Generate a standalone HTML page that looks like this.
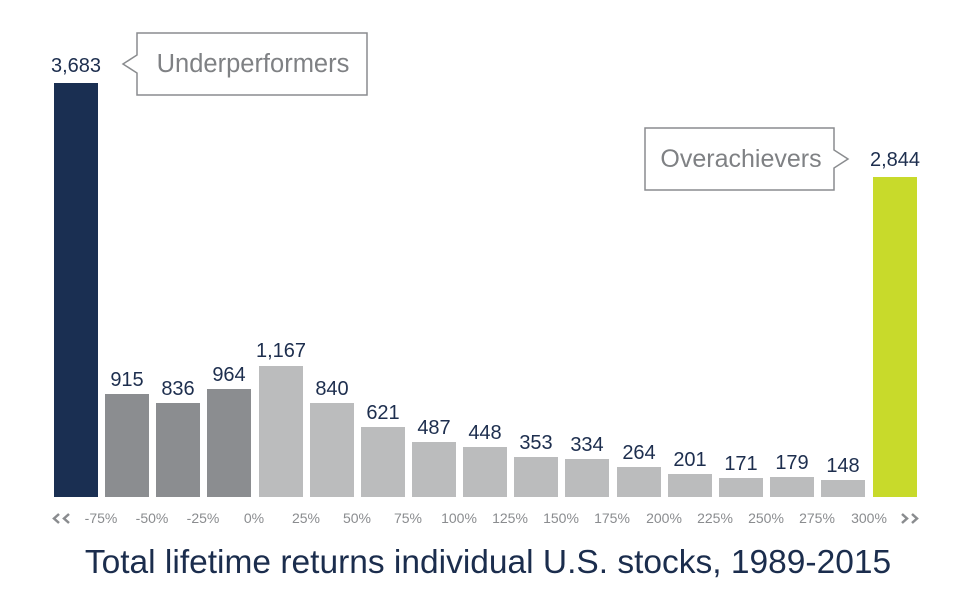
<!DOCTYPE html>
<html><head><meta charset="utf-8"><style>
html,body{margin:0;padding:0;background:#fff;}
svg{display:block;}
</style></head><body>
<svg width="964" height="606" viewBox="0 0 964 606" xmlns="http://www.w3.org/2000/svg" font-family="'Liberation Sans', sans-serif">
<rect width="964" height="606" fill="#fff"/>
<rect x="54" y="83" width="44" height="414" fill="#1a2f52"/>
<rect x="105" y="394" width="44" height="103" fill="#8b8d90"/>
<rect x="156" y="403" width="44" height="94" fill="#8b8d90"/>
<rect x="207" y="389" width="44" height="108" fill="#8b8d90"/>
<rect x="259" y="366" width="44" height="131" fill="#bbbcbd"/>
<rect x="310" y="403" width="44" height="94" fill="#bbbcbd"/>
<rect x="361" y="427" width="44" height="70" fill="#bbbcbd"/>
<rect x="412" y="442" width="44" height="55" fill="#bbbcbd"/>
<rect x="463" y="447" width="44" height="50" fill="#bbbcbd"/>
<rect x="514" y="457" width="44" height="40" fill="#bbbcbd"/>
<rect x="565" y="459" width="44" height="38" fill="#bbbcbd"/>
<rect x="617" y="467" width="44" height="30" fill="#bbbcbd"/>
<rect x="668" y="474" width="44" height="23" fill="#bbbcbd"/>
<rect x="719" y="478" width="44" height="19" fill="#bbbcbd"/>
<rect x="770" y="477" width="44" height="20" fill="#bbbcbd"/>
<rect x="821" y="480" width="44" height="17" fill="#bbbcbd"/>
<rect x="873" y="177" width="44" height="320" fill="#c8da2b"/>
<g fill="#1d2e4e" font-size="20" text-anchor="middle">
<text x="76" y="72">3,683</text>
<text x="127" y="386">915</text>
<text x="178" y="395">836</text>
<text x="229" y="381">964</text>
<text x="281" y="357">1,167</text>
<text x="332" y="395">840</text>
<text x="383" y="419">621</text>
<text x="434" y="434">487</text>
<text x="485" y="439">448</text>
<text x="536" y="449">353</text>
<text x="587" y="451">334</text>
<text x="639" y="459">264</text>
<text x="690" y="466">201</text>
<text x="741" y="470">171</text>
<text x="792" y="469">179</text>
<text x="843" y="472">148</text>
<text x="895" y="166">2,844</text>
</g>
<g fill="#8a8c8f" font-size="14" text-anchor="middle">
<text x="101" y="523">-75%</text>
<text x="152" y="523">-50%</text>
<text x="203" y="523">-25%</text>
<text x="254" y="523">0%</text>
<text x="306" y="523">25%</text>
<text x="357" y="523">50%</text>
<text x="408" y="523">75%</text>
<text x="459" y="523">100%</text>
<text x="510" y="523">125%</text>
<text x="561" y="523">150%</text>
<text x="612" y="523">175%</text>
<text x="664" y="523">200%</text>
<text x="715" y="523">225%</text>
<text x="766" y="523">250%</text>
<text x="817" y="523">275%</text>
<text x="869" y="523">300%</text>
</g>
<g fill="none" stroke="#8a8c8f" stroke-width="2.5">
<polyline points="59,514 54,518.5 59,523"/>
<polyline points="69,514 64,518.5 69,523"/>
<polyline points="902,514 907,518.5 902,523"/>
<polyline points="912,514 917,518.5 912,523"/>
</g>
<path d="M137,33 H367 V95 H137 V73 L123,64 L137,55 Z" fill="#fff" stroke="#8a8c8f" stroke-width="1.5"/>
<text x="253" y="72" text-anchor="middle" font-size="25.5" fill="#7f8184">Underperformers</text>
<path d="M645,128 H834 V150 L848,159 L834,168 V190 H645 Z" fill="#fff" stroke="#8a8c8f" stroke-width="1.5"/>
<text x="741" y="167" text-anchor="middle" font-size="25" fill="#7f8184">Overachievers</text>
<text x="488" y="573" text-anchor="middle" font-size="33.5" fill="#1b2d4d">Total lifetime returns individual U.S. stocks, 1989-2015</text>
</svg>
</body></html>
